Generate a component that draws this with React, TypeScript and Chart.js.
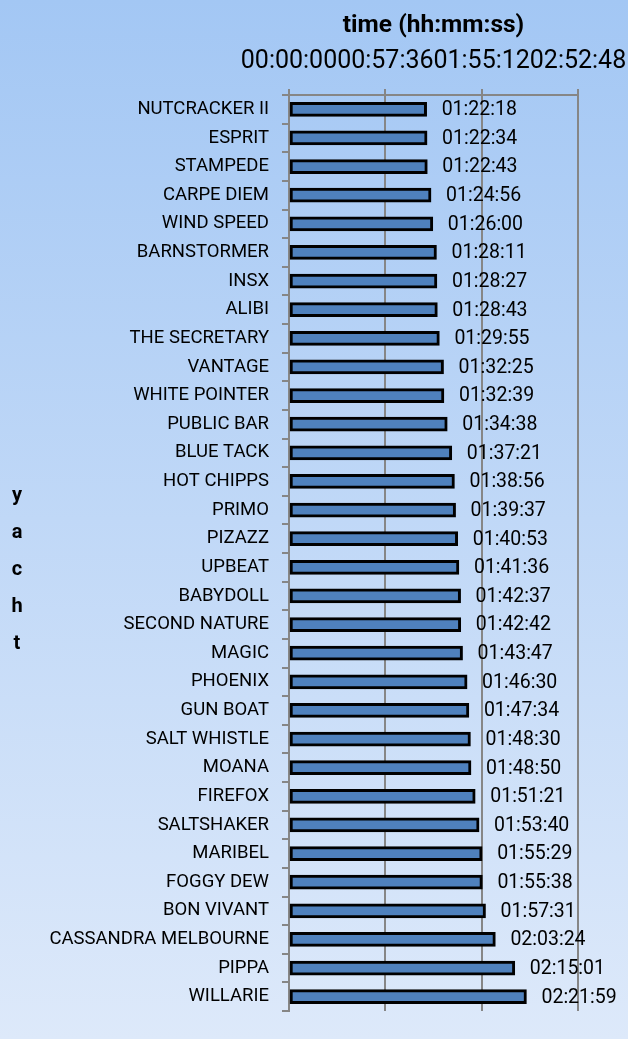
import React, { useEffect, useRef } from "react";
import { Chart, registerables } from "chart.js";

Chart.register(...registerables);

const yachts = [
  "NUTCRACKER II", "ESPRIT", "STAMPEDE", "CARPE DIEM", "WIND SPEED", "BARNSTORMER",
  "INSX", "ALIBI", "THE SECRETARY", "VANTAGE", "WHITE POINTER", "PUBLIC BAR",
  "BLUE TACK", "HOT CHIPPS", "PRIMO", "PIZAZZ", "UPBEAT", "BABYDOLL",
  "SECOND NATURE", "MAGIC", "PHOENIX", "GUN BOAT", "SALT WHISTLE", "MOANA",
  "FIREFOX", "SALTSHAKER", "MARIBEL", "FOGGY DEW", "BON VIVANT",
  "CASSANDRA MELBOURNE", "PIPPA", "WILLARIE",
];

const elapsedTimes = [
  "01:22:18", "01:22:34", "01:22:43", "01:24:56", "01:26:00", "01:28:11",
  "01:28:27", "01:28:43", "01:29:55", "01:32:25", "01:32:39", "01:34:38",
  "01:37:21", "01:38:56", "01:39:37", "01:40:53", "01:41:36", "01:42:37",
  "01:42:42", "01:43:47", "01:46:30", "01:47:34", "01:48:30", "01:48:50",
  "01:51:21", "01:53:40", "01:55:29", "01:55:38", "01:57:31",
  "02:03:24", "02:15:01", "02:21:59",
];

const axisMinTime = "00:00:00";
const axisMaxTime = "02:52:48";
const axisStepTime = "00:57:36";

const xTitle = "time (hh:mm:ss)";
const yTitle = "yacht";

const toSeconds = (s: string) => {
  const [h, m, sec] = s.split(":").map(Number);
  return h * 3600 + m * 60 + sec;
};
const pad2 = (n: number) => String(n).padStart(2, "0");
const toHMS = (v: number) => {
  const t = Math.round(v);
  return `${pad2(Math.floor(t / 3600))}:${pad2(Math.floor((t % 3600) / 60))}:${pad2(t % 60)}`;
};

const FONT = "Roboto";

const bgPlugin = {
  id: "bgGradient",
  beforeDraw(chart: any) {
    const { ctx, width, height } = chart;
    ctx.save();
    const g = ctx.createLinearGradient(0, 0, 0, height);
    g.addColorStop(0, "#A3C7F4");
    g.addColorStop(1, "#DDE9FA");
    ctx.fillStyle = g;
    ctx.fillRect(0, 0, width, height);
    ctx.restore();
  },
};

const labelsPlugin = {
  id: "barValueLabels",
  afterDatasetsDraw(chart: any) {
    const { ctx } = chart;
    const meta = chart.getDatasetMeta(0);
    ctx.save();
    ctx.font = `19.5px ${FONT}`;
    ctx.fillStyle = "#000";
    ctx.textAlign = "left";
    ctx.textBaseline = "middle";
    meta.data.forEach((bar: any, i: number) => {
      ctx.fillText(elapsedTimes[i], bar.x + 15, bar.y + 1);
    });
    ctx.restore();
  },
};

const yTitlePlugin = {
  id: "stackedYTitle",
  afterDraw(chart: any) {
    const { ctx, chartArea } = chart;
    const letters = yTitle.split("");
    const step = 37;
    const cy = (chartArea.top + chartArea.bottom) / 2 + 17;
    const start = cy - ((letters.length - 1) * step) / 2;
    ctx.save();
    ctx.font = `bold 20px ${FONT}`;
    ctx.fillStyle = "#000";
    ctx.textAlign = "center";
    ctx.textBaseline = "middle";
    letters.forEach((ch, i) => ctx.fillText(ch, 17, start + i * step));
    ctx.restore();
  },
};

export default function App() {
  const ref = useRef<HTMLCanvasElement | null>(null);

  useEffect(() => {
    document.body.style.margin = "0";
    const canvas = ref.current;
    if (!canvas) return;
    const chart = new Chart(canvas, {
      type: "bar",
      data: {
        labels: yachts,
        datasets: [
          {
            data: elapsedTimes.map(toSeconds),
            backgroundColor: "#4F81BD",
            borderColor: "#000000",
            borderWidth: 3,
            borderSkipped: false,
            barThickness: 14,
          },
        ],
      },
      options: {
        indexAxis: "y",
        responsive: false,
        animation: false,
        layout: { padding: { left: 8, right: 50, top: 0, bottom: 28 } },
        plugins: {
          legend: { display: false },
          tooltip: { enabled: false },
        },
        scales: {
          x: {
            position: "top",
            min: toSeconds(axisMinTime),
            max: toSeconds(axisMaxTime),
            ticks: {
              stepSize: toSeconds(axisStepTime),
              callback: (v: any) => toHMS(Number(v)),
              maxRotation: 0,
              minRotation: 0,
              autoSkip: false,
              color: "#000",
              font: { family: FONT, size: 25 },
              padding: 12,
            },
            grid: { color: "#868686", lineWidth: 2, tickLength: 6 },
            border: { color: "#868686", width: 2 },
            title: {
              display: true,
              text: xTitle,
              color: "#000",
              font: { family: FONT, size: 24.5, weight: "bold" },
              padding: { top: 11, bottom: 0 },
            },
            afterFit: (s: any) => {
              s.height = 95;
              s.paddingLeft = 0;
              s.paddingRight = 0;
            },
          },
          y: {
            ticks: {
              color: "#000",
              font: { family: FONT, size: 18.5 },
              padding: 13,
              autoSkip: false,
            },
            grid: {
              offset: true,
              drawOnChartArea: false,
              color: "#868686",
              lineWidth: 2,
              tickLength: 7,
            },
            border: { color: "#868686", width: 2 },
            afterFit: (s: any) => {
              s.width = 281;
              s.paddingTop = 0;
              s.paddingBottom = 0;
            },
          },
        },
      } as any,
      plugins: [bgPlugin, labelsPlugin, yTitlePlugin],
    });
    return () => chart.destroy();
  }, []);

  return (
    <div style={{ width: 628, height: 1039 }}>
      <canvas ref={ref} width={628} height={1039} style={{ display: "block" }} />
    </div>
  );
}
